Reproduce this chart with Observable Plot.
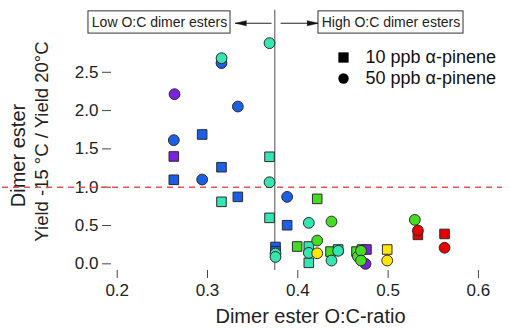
<!DOCTYPE html>
<html>
<head>
<meta charset="utf-8">
<script src="https://cdn.jsdelivr.net/npm/d3@7"></script>
<script src="https://cdn.jsdelivr.net/npm/@observablehq/plot@0.6"></script>
<style>
  html, body { margin: 0; padding: 0; background: #fff; }
  #chart { width: 509px; height: 329px; overflow: hidden; }
</style>
</head>
<body>
<div id="chart"></div>
<script>
// ---- data ----
const seriesNames = ["10 ppb α-pinene", "50 ppb α-pinene"];

// 10 ppb (squares)
const oc10    = [0.2941, 0.2627, 0.3155, 0.3687, 0.2627, 0.3155, 0.3336, 0.3687, 0.3882, 0.3753, 0.3753, 0.4215, 0.3993, 0.4122, 0.4122, 0.4362, 0.4447, 0.4650, 0.4710, 0.4760, 0.4990, 0.5330, 0.5625];
const yield10 = [1.688, 1.401, 1.261, 1.397, 1.097, 0.809, 0.874, 0.600, 0.504, 0.220, 0.165, 0.848, 0.226, 0.226, 0.013, 0.160, 0.187, 0.160, 0.187, 0.187, 0.187, 0.378, 0.390];
const group10 = [1, 0, 1, 2, 1, 2, 1, 2, 1, 1, 1, 3, 3, 2, 2, 3, 2, 3, 2, 0, 4, 5, 5];

// 50 ppb (circles)
const oc50    = [0.3687, 0.3155, 0.3156, 0.2635, 0.3336, 0.2627, 0.2941, 0.3687, 0.3882, 0.3753, 0.3753, 0.4122, 0.4373, 0.4215, 0.4122, 0.4215, 0.4373, 0.4447, 0.4665, 0.4700, 0.4750, 0.4700, 0.4990, 0.5296, 0.5330, 0.5625];
const yield50 = [2.880, 2.620, 2.684, 2.214, 2.053, 1.614, 1.100, 1.065, 0.874, 0.135, 0.090, 0.535, 0.552, 0.304, 0.143, 0.138, 0.043, 0.170, 0.095, 0.170, 0.000, 0.043, 0.043, 0.574, 0.435, 0.210];
const group50 = [2, 1, 2, 0, 1, 1, 1, 2, 1, 2, 2, 2, 3, 3, 2, 4, 2, 2, 3, 3, 0, 3, 4, 3, 5, 5];

const colorGroups = [0, 1, 2, 3, 4, 5];
const xTicks = [0.2, 0.3, 0.4, 0.5, 0.6];
const yTicks = [0, 0.5, 1.0, 1.5, 2.0, 2.5];
const referenceRatio = [1.0];
const dividerOC = [0.3745];

// annotations (data units)
const annotationLabels = ["Low O:C dimer esters", "High O:C dimer esters"];
const annotationX1 = [0.1682, 0.4229];
const annotationX2 = [0.3255, 0.5835];
const annotationY1 = [3.005, 3.005];
const annotationY2 = [3.295, 3.295];
const arrowFrom = [0.3715, 0.3815];
const arrowTo   = [0.3310, 0.4225];
const arrowY    = [3.140, 3.140];
const dividerTop = 3.31;

// ---- build tables ----
const points = [
  ...oc10.map((x, i) => ({x, y: yield10[i], g: group10[i], s: seriesNames[0]})),
  ...oc50.map((x, i) => ({x, y: yield50[i], g: group50[i], s: seriesNames[1]}))
];
const boxes = annotationLabels.map((t, i) => ({
  t, x1: annotationX1[i], x2: annotationX2[i], y1: annotationY1[i], y2: annotationY2[i],
  xm: (annotationX1[i] + annotationX2[i]) / 2, ym: (annotationY1[i] + annotationY2[i]) / 2
}));
const arrows = arrowFrom.map((a, i) => ({a, b: arrowTo[i], y: arrowY[i], dir: arrowTo[i] > a ? 90 : -90}));

const palette = ["#7a22dc", "#1a5fe6", "#33e6b2", "#44dd22", "#ffe800", "#e80000"];
const axisColor = "#444";

const chart = Plot.plot({
  width: 509,
  height: 329,
  marginLeft: 111,
  marginRight: 4,
  marginTop: 36,
  marginBottom: 59,
  style: {fontFamily: "'Liberation Sans', Arial, sans-serif", background: "#fff", color: "#222"},
  x: {domain: [0.1937, 0.6300]},
  y: {domain: [-0.087, 2.967]},
  color: {type: "ordinal", domain: colorGroups, range: palette},
  symbol: {domain: seriesNames, range: ["square", "circle"]},
  marks: [
    Plot.axisX({ticks: xTicks, tickSize: 8, tickPadding: 5, tickFormat: d3.format(".1f"), fontSize: 17, label: null, line: true, stroke: axisColor}),
    Plot.axisX({anchor: "top", ticks: [], label: null, line: true, stroke: axisColor}),
    Plot.axisY({ticks: yTicks, tickSize: 9, tickPadding: 4, tickFormat: d3.format(".1f"), fontSize: 17, label: null, line: true, stroke: axisColor}),
    // axis titles
    Plot.text(["Dimer ester O:C-ratio"], {text: d => d, frameAnchor: "bottom", dx: 2, dy: 46, lineAnchor: "middle", fontSize: 20, fill: "#222"}),
    Plot.text(["Dimer ester"], {text: d => d, frameAnchor: "left", dx: -93, dy: 2, rotate: -90, textAnchor: "middle", lineAnchor: "middle", fontSize: 20, fill: "#222"}),
    Plot.text(["Yield -15 °C / Yield 20°C"], {text: d => d, frameAnchor: "left", dx: -69, dy: -12, rotate: -90, textAnchor: "middle", lineAnchor: "middle", fontSize: 18.5, fill: "#222"}),
    // reference line at ratio = 1
    Plot.ruleY(referenceRatio, {stroke: "#e05555", strokeWidth: 1.5, strokeDasharray: "6,5", x2: 0.6265}),
    // divider line
    Plot.ruleX(dividerOC, {y1: -0.087, y2: dividerTop, stroke: "#777", strokeWidth: 1.3}),
    // annotation boxes
    Plot.rect(boxes, {x1: "x1", x2: "x2", y1: "y1", y2: "y2", fill: "#fff", stroke: "#333", strokeWidth: 1}),
    Plot.text(boxes, {x: "xm", y: "ym", text: "t", fontSize: 14, fill: "#222"}),
    Plot.ruleY(arrows, {y: "y", x1: "a", x2: "b", stroke: "#222", strokeWidth: 1}),
    Plot.vector(arrows, {x: "b", y: "y", rotate: "dir", shape: "spike", anchor: "end", length: 11, r: 2.6, fill: "#111", stroke: "#111", strokeWidth: 0.5}),
    // data points
    Plot.dot(points, {x: "x", y: "y", fill: "g", symbol: "s", r: 5.4, stroke: "#2a2a2a", strokeWidth: 1}),
    // legend
    Plot.dot([seriesNames[0]], {frameAnchor: "top-right", dx: -162, dy: 21, symbol: "square", r: 5.8, fill: "#000"}),
    Plot.dot([seriesNames[1]], {frameAnchor: "top-right", dx: -162, dy: 42, symbol: "circle", r: 5.2, fill: "#000"}),
    Plot.text([seriesNames[0]], {text: d => d, frameAnchor: "top-right", dx: -140, dy: 21, textAnchor: "start", lineAnchor: "middle", fontSize: 18, fill: "#111"}),
    Plot.text([seriesNames[1]], {text: d => d, frameAnchor: "top-right", dx: -140, dy: 42, textAnchor: "start", lineAnchor: "middle", fontSize: 18, fill: "#111"})
  ]
});
document.getElementById("chart").appendChild(chart);
</script>
</body>
</html>
